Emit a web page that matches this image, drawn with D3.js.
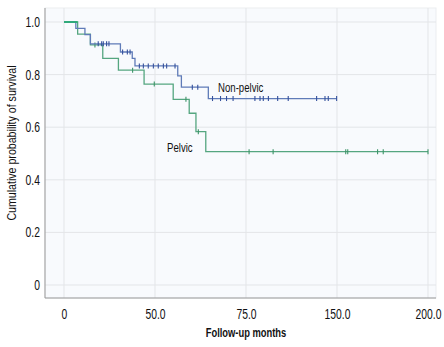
<!DOCTYPE html>
<html>
<head>
<meta charset="utf-8">
<script src="https://cdn.jsdelivr.net/npm/d3@7"></script>
<style>
  body { margin: 0; background: #fff; }
  text { font-family: "Liberation Sans", Arial, sans-serif; fill: #111; }
</style>
</head>
<body>
<script>
// Kaplan-Meier steps: [time, survival after the event]
var nonPelvicSteps = [[0, 1.0], [6.5, 0.976], [11.5, 0.952], [14.5, 0.917], [31, 0.886], [37.5, 0.862],
  [39, 0.833], [62.5, 0.795], [64.5, 0.752], [79.3, 0.709]];
var nonPelvicEnd = 149.8;
var nonPelvicCensored = [18.8, 20.7, 21.6, 23.4, 24.7, 32.2, 34.8, 36.3, 41.4, 43.6, 46.3, 49.1, 51.8,
  54.6, 56.4, 61, 70.5, 73.5, 81.6, 86, 89.3, 92.9, 104.9, 107.7, 109.5, 112.3, 117.4, 123.2,
  138.8, 143.4, 145.2, 149.8];

var pelvicSteps = [[0, 1.0], [7.5, 0.954], [14.5, 0.913], [21.3, 0.862], [29.9, 0.817], [44, 0.764],
  [60, 0.706], [68.8, 0.653], [72.5, 0.583], [77.9, 0.507]];
var pelvicEnd = 200;
var pelvicCensored = [17, 37.7, 49.6, 67, 73.8, 101.7, 114.9, 154.8, 155.9, 172.3, 175.4, 200];

var xTicks = [0, 50, 100, 150, 200];
var xTickLabels = ["0", "50.0", "75.0", "150.0", "200.0"];
var yTicks = [0, 0.2, 0.4, 0.6, 0.8, 1.0];
var yTickLabels = ["0", "0.2", "0.4", "0.6", "0.8", "1.0"];

var width = 444, height = 347;
var narrow = 0.74; // horizontal squeeze for a condensed look

var svg = d3.select("body").append("svg").attr("width", width).attr("height", height);

var x = d3.scaleLinear().domain([0, 200]).range([64, 428]);
var y = d3.scaleLinear().domain([0, 1]).range([285, 22]);

// panel
svg.append("rect").attr("x", 45).attr("y", 8).attr("width", 391).attr("height", 290)
  .attr("fill", "#f8fafd").attr("stroke", "#ebedf0");

// grid
svg.append("g").selectAll("line").data(xTicks).join("line")
  .attr("x1", d => x(d)).attr("x2", d => x(d)).attr("y1", 8).attr("y2", 298)
  .attr("stroke", "#e3e5e8").attr("stroke-width", 1);
svg.append("g").selectAll("line").data(yTicks).join("line")
  .attr("x1", 45).attr("x2", 436).attr("y1", d => y(d)).attr("y2", d => y(d))
  .attr("stroke", "#e3e5e8").attr("stroke-width", 1);

// axes
var xAxis = d3.axisBottom(x).tickValues(xTicks).tickSize(0).tickPadding(11)
  .tickFormat((d, i) => xTickLabels[i]);
var gx = svg.append("g").attr("transform", "translate(0,298)").call(xAxis);
gx.select(".domain").attr("d", "M45,0H436").attr("stroke", "#999");
gx.selectAll("text").style("font-size", "14px").style("font-family", "Liberation Sans, Arial, sans-serif")
  .attr("fill", "#111").attr("transform", "scale(" + narrow + ",1)");

var yAxis = d3.axisLeft(y).tickValues(yTicks).tickSize(0).tickPadding(5)
  .tickFormat((d, i) => yTickLabels[i]);
var gy = svg.append("g").attr("transform", "translate(45,0)").call(yAxis);
gy.select(".domain").attr("d", "M0,8V298").attr("stroke", "#999");
gy.selectAll("text").style("font-size", "14px").style("font-family", "Liberation Sans, Arial, sans-serif")
  .attr("fill", "#111").attr("x", -5 / narrow).attr("transform", "scale(" + narrow + ",1)");

function label(px, py, txt, size, anchor, rot, k, bold) {
  svg.append("g").attr("transform", "translate(" + px + "," + py + ")" + (rot ? " rotate(" + rot + ")" : ""))
    .append("text").attr("transform", "scale(" + k + ",1)").attr("text-anchor", anchor)
    .style("font-size", size + "px").style("font-weight", bold ? "bold" : "normal").text(txt);
}

label(246, 337, "Follow-up months", 12.5, "middle", 0, 0.75, true);
label(16, 143, "Cumulative probability of survival", 12.5, "middle", -90, 0.85, false);

function stepPoints(steps, end) {
  var pts = steps.slice();
  pts.push([end, steps[steps.length - 1][1]]);
  return pts;
}

function survivalAt(steps, t) {
  var s = 1;
  steps.forEach(function (d) { if (d[0] <= t) s = d[1]; });
  return s;
}

var line = d3.line().x(d => x(d[0])).y(d => y(d[1])).curve(d3.curveStepAfter);

function drawCurve(steps, end, censored, color, tickColor) {
  svg.append("path").datum(stepPoints(steps, end))
    .attr("d", line).attr("fill", "none").attr("stroke", color).attr("stroke-width", 1.3);
  svg.append("g").selectAll("line").data(censored).join("line")
    .attr("x1", d => x(d)).attr("x2", d => x(d))
    .attr("y1", d => y(survivalAt(steps, d)) - 2.5).attr("y2", d => y(survivalAt(steps, d)) + 2.5)
    .attr("stroke", tickColor).attr("stroke-width", 1.1);
}

drawCurve(pelvicSteps, pelvicEnd, pelvicCensored, "#55a680", "#3d9468");
drawCurve(nonPelvicSteps, nonPelvicEnd, nonPelvicCensored, "#5f7bb8", "#34509c");

// first step of the pelvic curve is drawn brighter
svg.append("path").datum([[0, 1], [pelvicSteps[1][0], 1]])
  .attr("d", line).attr("fill", "none").attr("stroke", "#1fb36a").attr("stroke-width", 1.5);

label(218, 92, "Non-pelvic", 13, "start", 0, 0.74, false);
label(167, 152, "Pelvic", 13, "start", 0, 0.74, false);
</script>
</body>
</html>
